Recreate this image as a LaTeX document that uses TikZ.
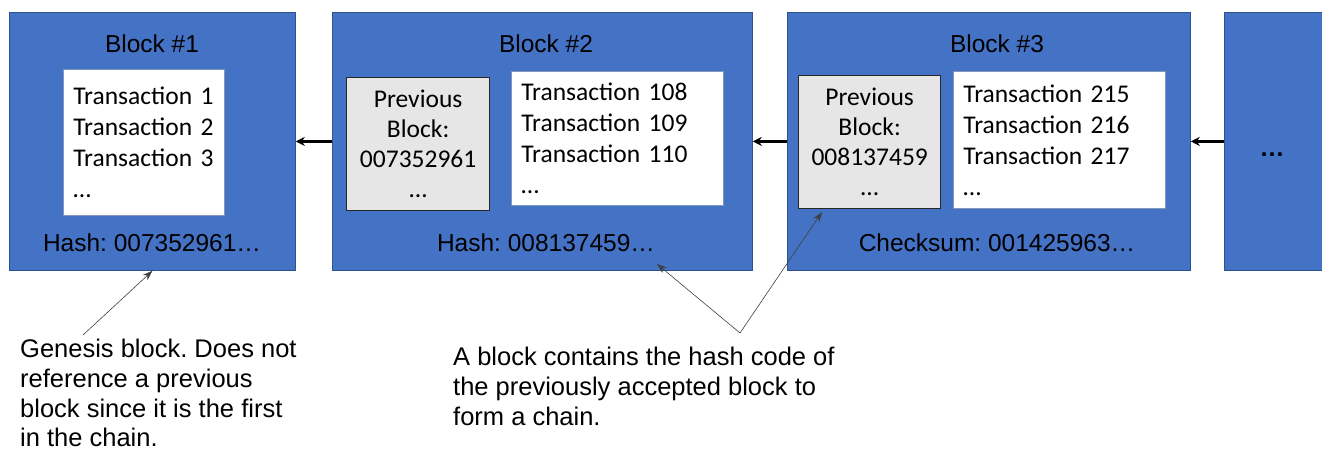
\documentclass[tikz,border=0pt]{standalone}
\usepackage{fontspec}
\setmainfont{Liberation Sans}
\newfontfamily\calfont{Carlito}
\usetikzlibrary{arrows.meta}
\frenchspacing
\definecolor{blockblue}{HTML}{4472C4}
\definecolor{blockedge}{HTML}{2F528F}
\definecolor{prevgrey}{HTML}{E7E6E6}
\tikzset{
  blockbox/.style={draw=blockedge, line width=0.8pt, fill=blockblue, anchor=north west, inner sep=0pt},
  txbox/.style={draw=blockedge!60, fill=white, line width=0.8pt, anchor=north west, inner xsep=10pt, inner ysep=0pt, align=left, font=\calfont\fontsize{25.5}{31}\selectfont},
  prevbox/.style={draw=black!85, fill=prevgrey, line width=1.3pt, anchor=north west, inner sep=0pt, align=center, font=\calfont\fontsize{25.5}{30}\selectfont},
  title/.style={font=\fontsize{24.5}{29}\selectfont, inner sep=0pt},
  note/.style={font=\fontsize{25.5}{29.7}\selectfont, align=left, anchor=north west, inner sep=0pt},
  link/.style={-{Stealth[length=9pt,width=9pt]}, line width=2.5pt},
  pointer/.style={-{Stealth[length=10pt,width=7pt]}, line width=0.6pt, draw=black!75},
}
\begin{document}
\begin{tikzpicture}[x=1pt,y=-1pt]
\useasboundingbox (0,0) rectangle (1322,450);
% blocks
\node[blockbox, minimum width=286pt, minimum height=258pt] (b1) at (9,12) {};
\node[blockbox, minimum width=420pt, minimum height=258pt] (b2) at (332,12) {};
\node[blockbox, minimum width=403pt, minimum height=258pt] (b3) at (787,12) {};
\node[blockbox, minimum width=100pt, minimum height=258pt] (b4) at (1224,12) {};
% titles
\node[title] (n1) at (152,44) {Block \#1};
\node[title] (n2) at (546,44) {Block \#2};
\node[title] (n3) at (997,44) {Block \#3};
% hashes
\node[title] (h1) at (152,243) {Hash: 007352961…};
\node[title] (h2) at (546,243) {Hash: 008137459…};
\node[title] (h3) at (997,243) {Checksum: 001425963…};
% inner boxes
\node[txbox, text width=141pt, minimum height=146pt] (w1) at (63,69) {Transaction 1\\Transaction 2\\Transaction 3\\…};
\node[prevbox, text width=143pt, minimum height=133pt] (p2) at (346,77) {Previous\\Block:\\007352961\\…};
\node[txbox, text width=192pt, minimum height=134pt] (w2) at (511,71) {Transaction 108\\Transaction 109\\Transaction 110\\…};
\node[prevbox, text width=142pt, minimum height=133pt] (p3) at (798,75) {Previous\\Block:\\008137459\\…};
\node[txbox, text width=192pt, minimum height=137pt] (w3) at (953,71) {Transaction 215\\Transaction 216\\Transaction 217\\…};
\node[font=\bfseries\fontsize{25}{30}\selectfont, inner sep=0pt] (dots) at (1272,155) {…};
% chain links
\draw[link] (b2.west) -- (b1.east);
\draw[link] (b3.west) -- (b2.east);
\draw[link] (b4.west) -- (b3.east);
% notes
\node[note] (g) at (20,339) {Genesis block. Does not\\reference a previous\\block since it is the first\\in the chain.};
\node[note] (c) at (453,347) {A block contains the hash code of\\the previously accepted block to\\form a chain.};
\coordinate (gs) at (83,335);
\coordinate (cs) at (740,333);
\coordinate (t2) at (657,264);
\coordinate (t3) at (822,212);
\draw[pointer] (gs) -- (b1.south);
\draw[pointer] (cs) -- (t2);
\draw[pointer] (cs) -- (t3);
\end{tikzpicture}
\end{document}
